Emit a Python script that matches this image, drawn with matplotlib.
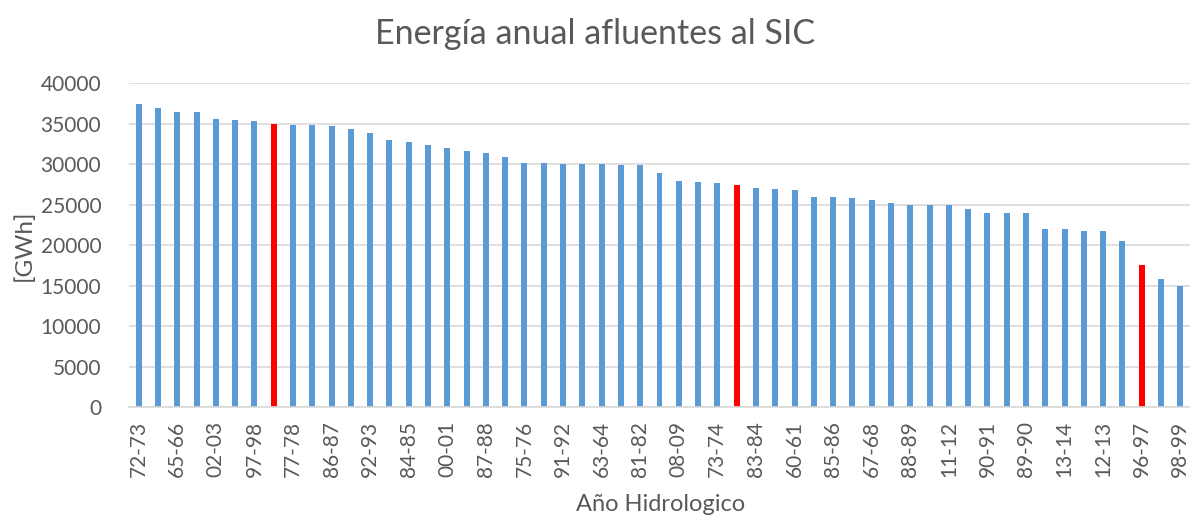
import matplotlib
matplotlib.use("Agg")
import numpy as np
import matplotlib.pyplot as plt

plt.rcParams['font.family'] = ['Lato', 'DejaVu Sans']

# energia anual por año hidrologico, ordenada de mayor a menor [GWh]
energia = [37500, 37000, 36500, 36450, 35600, 35500, 35400, 35000, 34900, 34800,
           34700, 34400, 33900, 33000, 32700, 32400, 32000, 31700, 31400, 30900,
           30100, 30100, 30000, 30000, 30000, 29950, 29950, 28900, 27900, 27800,
           27700, 27500, 27100, 26900, 26800, 26000, 26000, 25800, 25600, 25200,
           25000, 25000, 25000, 24500, 24000, 24000, 24000, 22000, 22000, 21800,
           21800, 20500, 17500, 15800, 15000]
# solo se muestra una etiqueta cada dos barras
etiquetas = ["72-73", "65-66", "02-03", "97-98", "77-78", "86-87", "92-93",
             "84-85", "00-01", "87-88", "75-76", "91-92", "63-64", "81-82",
             "08-09", "73-74", "83-84", "60-61", "85-86", "67-68", "88-89",
             "11-12", "90-91", "89-90", "13-14", "12-13", "96-97", "98-99"]
destacados = [7, 31, 52]

gris = '#595959'
x = np.arange(len(energia))
colores = ['#FF0000' if i in destacados else '#5B9BD5' for i in x]

fig = plt.figure(figsize=(11.9, 5.16), dpi=100)
ax = fig.add_axes([129/1190, 1 - 407/516, 1 - 129/1190, (407 - 83.4)/516])

ax.bar(x, energia, width=0.31, color=colores, zorder=3)
ax.set_xlim(-0.5, len(energia) - 0.5)
ax.set_ylim(0, 40000)
ax.set_yticks(np.arange(0, 40001, 5000))
ax.yaxis.grid(True, color='#D9D9D9', linewidth=1.2, zorder=0)
ax.set_xticks(x[::2])
ax.set_xticklabels(etiquetas, rotation=90)
ax.tick_params(axis='both', length=0, labelsize=15, labelcolor=gris)
ax.tick_params(axis='x', pad=10)
ax.tick_params(axis='y', pad=20)
for s in ['top', 'right', 'left']:
    ax.spines[s].set_visible(False)
ax.spines['bottom'].set_color('#D9D9D9')
ax.spines['bottom'].set_linewidth(1.2)
ax.spines['bottom'].set_zorder(4)

ax.set_ylabel('[GWh]', fontsize=17.5, color=gris, labelpad=4)
fig.text(0.555, 0.002, 'Año Hidrologico', fontsize=17, color=gris, ha='center', va='bottom')
fig.text(0.5, 0.935, 'Energía anual afluentes al SIC', fontsize=24.5, color=gris,
         ha='center', va='center')

plt.savefig('out.png', dpi=100)
